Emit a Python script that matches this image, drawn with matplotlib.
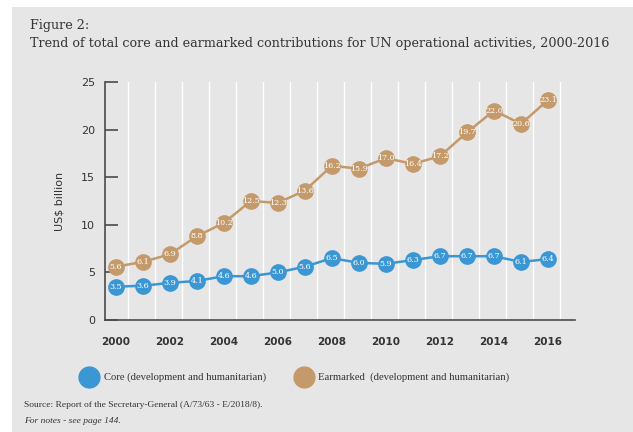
import matplotlib.pyplot as plt
from matplotlib.patches import Rectangle
from matplotlib.lines import Line2D

years = list(range(2000, 2017))
core = [3.5, 3.6, 3.9, 4.1, 4.6, 4.6, 5.0, 5.6, 6.5, 6.0, 5.9, 6.3, 6.7, 6.7, 6.7, 6.1, 6.4]
earmarked = [5.6, 6.1, 6.9, 8.8, 10.2, 12.5, 12.3, 13.6, 16.2, 15.9, 17.0, 16.4, 17.2, 19.7, 22.0, 20.6, 23.1]
xticks = list(range(2000, 2017, 2))
yticks = [0, 5, 10, 15, 20, 25]

blue = '#3b96d4'
tan = '#c49a6b'
bg = '#e6e6e6'
dark = '#4a4a4a'

fig = plt.figure(figsize=(6.33, 4.32), dpi=100)
fig.patch.set_facecolor('white')
# grey panel behind everything
fig.add_artist(Rectangle((12 / 633, 0), 1, 1 - 7 / 432, transform=fig.transFigure,
                         facecolor=bg, edgecolor='none', zorder=-10))

ax = fig.add_axes([105 / 633, 1 - 320 / 432, 470 / 633, 238 / 432])
ax.set_facecolor(bg)

# white vertical grid lines between the years
for y in years:
    ax.axvline(y + 0.46, color='white', lw=1, zorder=0)

ax.plot(years, earmarked, color=tan, lw=1.8, marker='o', ms=11, mec=tan, zorder=3)
ax.plot(years, core, color=blue, lw=1.8, marker='o', ms=11, mec=blue, zorder=3)

for x, v in zip(years, earmarked):
    ax.text(x, v, '%.1f' % v, color='white', fontsize=5.8, family='DejaVu Serif',
            ha='center', va='center', zorder=4)
for x, v in zip(years, core):
    ax.text(x, v, '%.1f' % v, color='white', fontsize=5.8, family='DejaVu Serif',
            ha='center', va='center', zorder=4)

ax.set_xlim(1999.6, 2017)
ax.set_ylim(0, 25)
ax.set_xticks(xticks)
ax.set_yticks(yticks)
ax.tick_params(axis='y', direction='in', length=9, width=1.2, color=dark, pad=7,
               labelsize=8, labelcolor='#333333')
ax.tick_params(axis='x', length=0, pad=12, labelsize=7.5, labelcolor='#333333')
for lab in ax.get_xticklabels():
    lab.set_fontweight('bold')
for s in ['top', 'right']:
    ax.spines[s].set_visible(False)
for s in ['left', 'bottom']:
    ax.spines[s].set_color(dark)
    ax.spines[s].set_linewidth(1.2)
ax.set_ylabel('US$ billion', fontsize=8, color='#333333', labelpad=12)

# title
fig.text(30 / 633, 1 - 25 / 432, 'Figure 2:', family='DejaVu Serif', fontsize=9.2,
         color='#333333', va='center')
fig.text(30 / 633, 1 - 44 / 432,
         'Trend of total core and earmarked contributions for UN operational activities, 2000-2016',
         family='DejaVu Serif', fontsize=9.2, color='#333333', va='center')

# legend
ly = 1 - 377 / 432
fig.add_artist(Line2D([89 / 633], [ly], marker='o', ms=15, color=blue, transform=fig.transFigure))
fig.text(104 / 633, ly, 'Core (development and humanitarian)', family='Liberation Serif',
         fontsize=7.7, color='#333333', va='center')
fig.add_artist(Line2D([304 / 633], [ly], marker='o', ms=15, color=tan, transform=fig.transFigure))
fig.text(318 / 633, ly, 'Earmarked  (development and humanitarian)', family='Liberation Serif',
         fontsize=7.7, color='#333333', va='center')

# source
fig.text(24 / 633, 1 - 405 / 432, 'Source: Report of the Secretary-General (A/73/63 - E/2018/8).',
         family='Liberation Serif', fontsize=6.8, color='#333333', va='center')
fig.text(24 / 633, 1 - 421 / 432, 'For notes - see page 144.', family='Liberation Serif',
         style='italic', fontsize=6.8, color='#333333', va='center')

fig.savefig('out.png', dpi=100, facecolor=fig.get_facecolor())
